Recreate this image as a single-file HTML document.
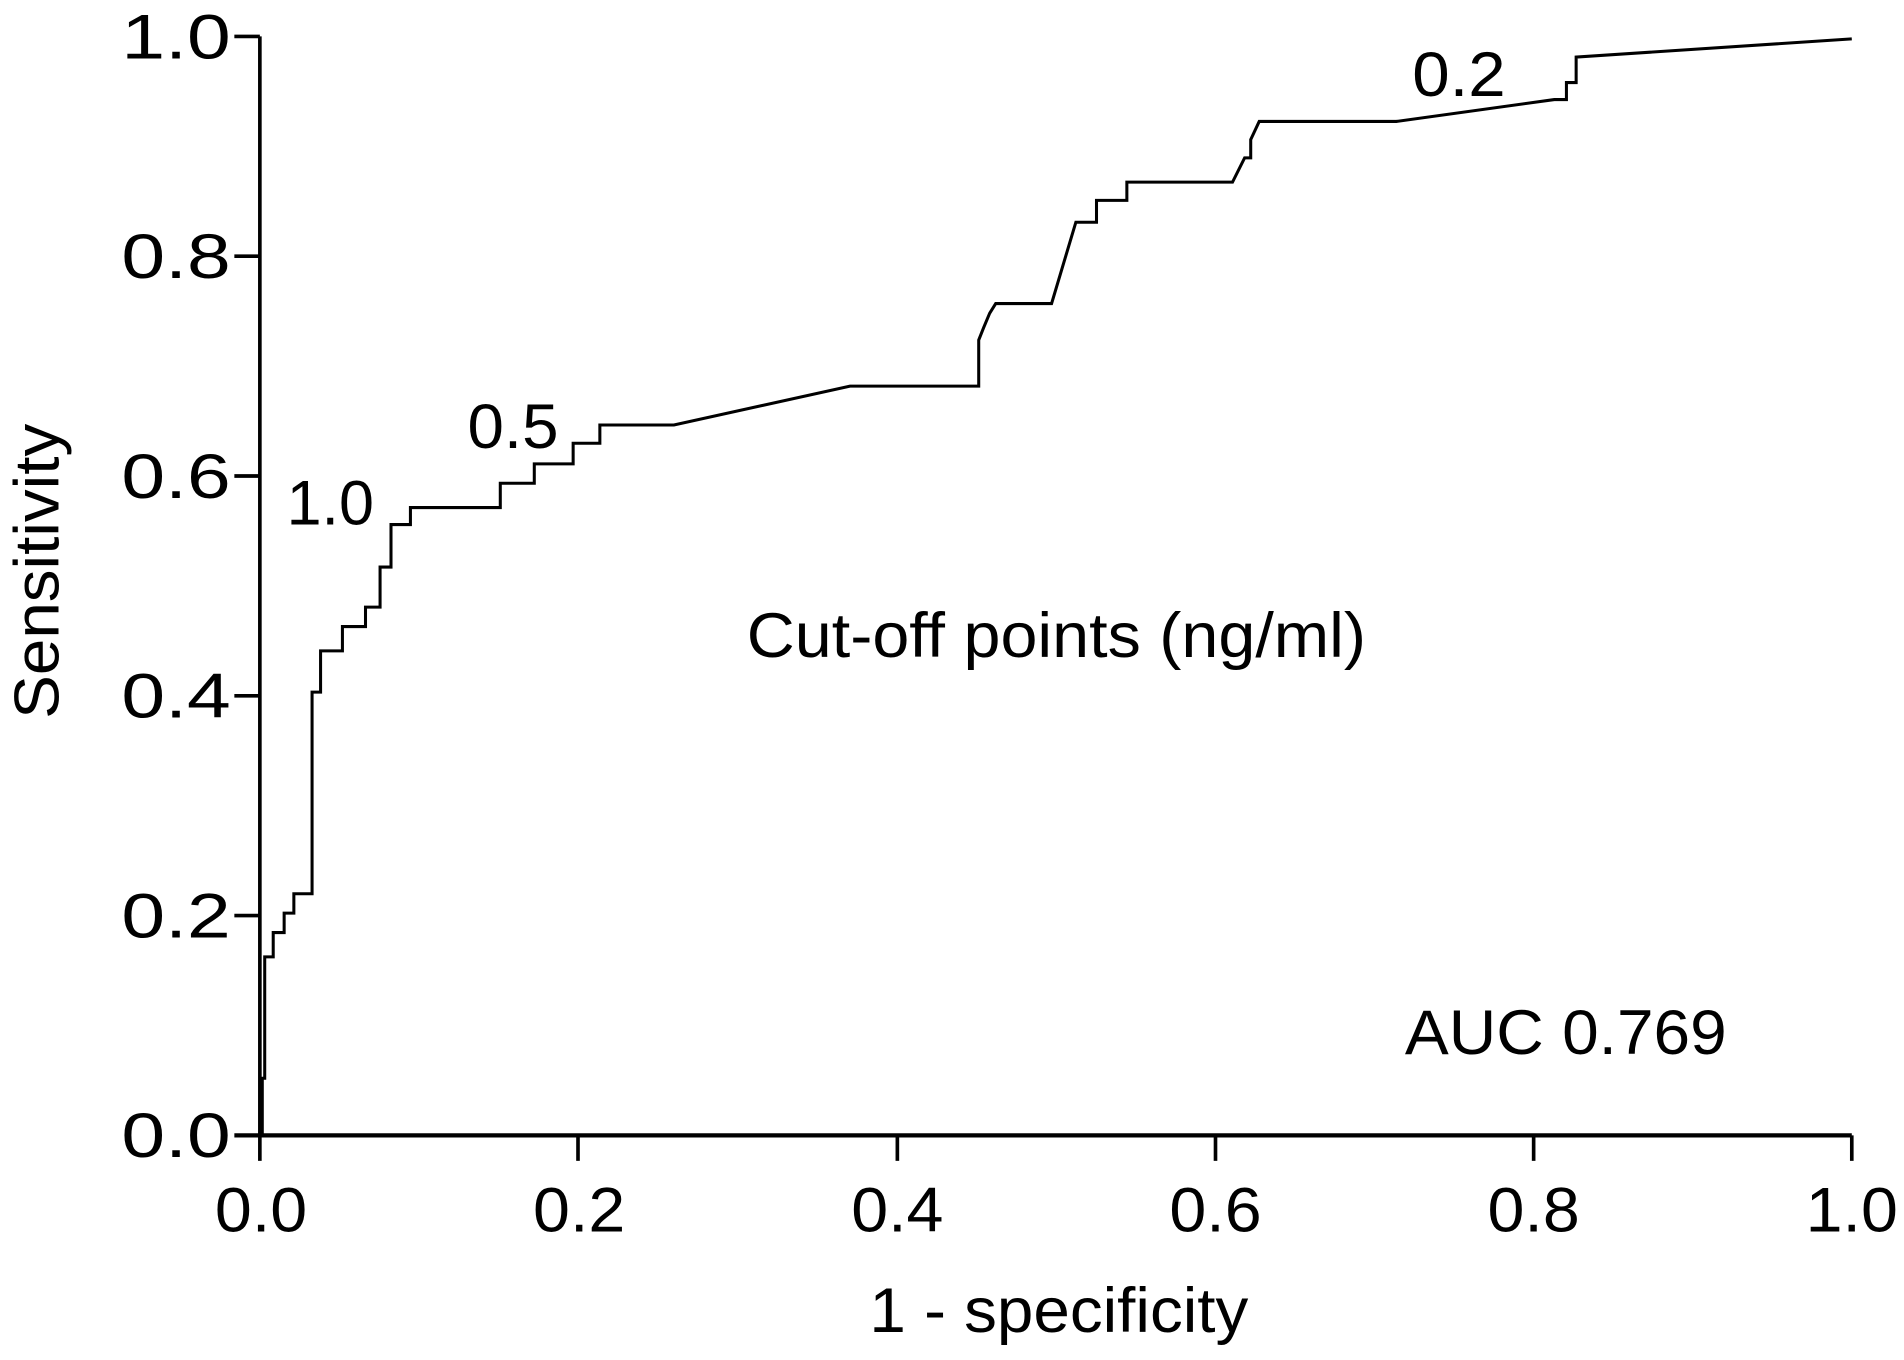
<!DOCTYPE html>
<html><head><style>html,body{margin:0;padding:0;background:#fff;}svg{display:block;}</style></head>
<body>
<svg width="1904" height="1360" viewBox="0 0 1568 1120" xmlns="http://www.w3.org/2000/svg" font-family="Liberation Sans, sans-serif" fill="#000">
<g stroke="#000" stroke-width="3" fill="none">
<line x1="214" y1="30" x2="214" y2="935"/>
<line x1="193" y1="935" x2="1525" y2="935" stroke-width="3.5"/>
<line x1="193" y1="30" x2="214" y2="30"/>
<line x1="193" y1="211" x2="214" y2="211"/>
<line x1="193" y1="392" x2="214" y2="392"/>
<line x1="193" y1="573" x2="214" y2="573"/>
<line x1="193" y1="754" x2="214" y2="754"/>
<line x1="214" y1="935" x2="214" y2="956"/>
<line x1="476" y1="935" x2="476" y2="956"/>
<line x1="739" y1="935" x2="739" y2="956"/>
<line x1="1001" y1="935" x2="1001" y2="956"/>
<line x1="1263" y1="935" x2="1263" y2="956"/>
<line x1="1525" y1="935" x2="1525" y2="956"/>
</g>
<polyline fill="none" stroke="#000" stroke-width="2.5" points="216,935 216,888 218,888 218,788 225,788 225,768 234,768 234,752 242,752 242,736 257,736 257,570 264,570 264,536 282,536 282,516 301,516 301,500 313,500 313,467 322,467 322,432 338,432 338,418 412,418 412,398 440,398 440,382 472,382 472,365 494,365 494,350 555,350 700,318 806,318 806,280 810,270 815,258 820,250 866,250 886,183 903,183 903,165 928,165 928,150 1015,150 1025,130 1030,130 1030,115 1037,100 1150,100 1280,82 1290,82 1290,68 1298,68 1298,47 1525,32"/>
<g font-size="52">
<text x="100" y="48" textLength="90" lengthAdjust="spacingAndGlyphs">1.0</text>
<text x="100" y="229" textLength="90" lengthAdjust="spacingAndGlyphs">0.8</text>
<text x="100" y="410" textLength="90" lengthAdjust="spacingAndGlyphs">0.6</text>
<text x="100" y="591" textLength="90" lengthAdjust="spacingAndGlyphs">0.4</text>
<text x="100" y="772" textLength="90" lengthAdjust="spacingAndGlyphs">0.2</text>
<text x="100" y="953" textLength="90" lengthAdjust="spacingAndGlyphs">0.0</text>
<text x="177" y="1014" textLength="76" lengthAdjust="spacingAndGlyphs">0.0</text>
<text x="439" y="1014" textLength="76" lengthAdjust="spacingAndGlyphs">0.2</text>
<text x="701" y="1014" textLength="76" lengthAdjust="spacingAndGlyphs">0.4</text>
<text x="963" y="1014" textLength="76" lengthAdjust="spacingAndGlyphs">0.6</text>
<text x="1225" y="1014" textLength="76" lengthAdjust="spacingAndGlyphs">0.8</text>
<text x="1487" y="1014" textLength="76" lengthAdjust="spacingAndGlyphs">1.0</text>
<text x="716" y="1097" textLength="312" lengthAdjust="spacingAndGlyphs">1 - specificity</text>
<text transform="translate(48,592) rotate(-90)" textLength="243" lengthAdjust="spacingAndGlyphs">Sensitivity</text>
<text x="236" y="432" textLength="72" lengthAdjust="spacingAndGlyphs">1.0</text>
<text x="385" y="369" textLength="75" lengthAdjust="spacingAndGlyphs">0.5</text>
<text x="1163" y="79" textLength="77" lengthAdjust="spacingAndGlyphs">0.2</text>
<text x="615" y="541" textLength="510" lengthAdjust="spacingAndGlyphs">Cut-off points (ng/ml)</text>
<text x="1157" y="868" textLength="265" lengthAdjust="spacingAndGlyphs">AUC 0.769</text>
</g>
</svg>
</body></html>
